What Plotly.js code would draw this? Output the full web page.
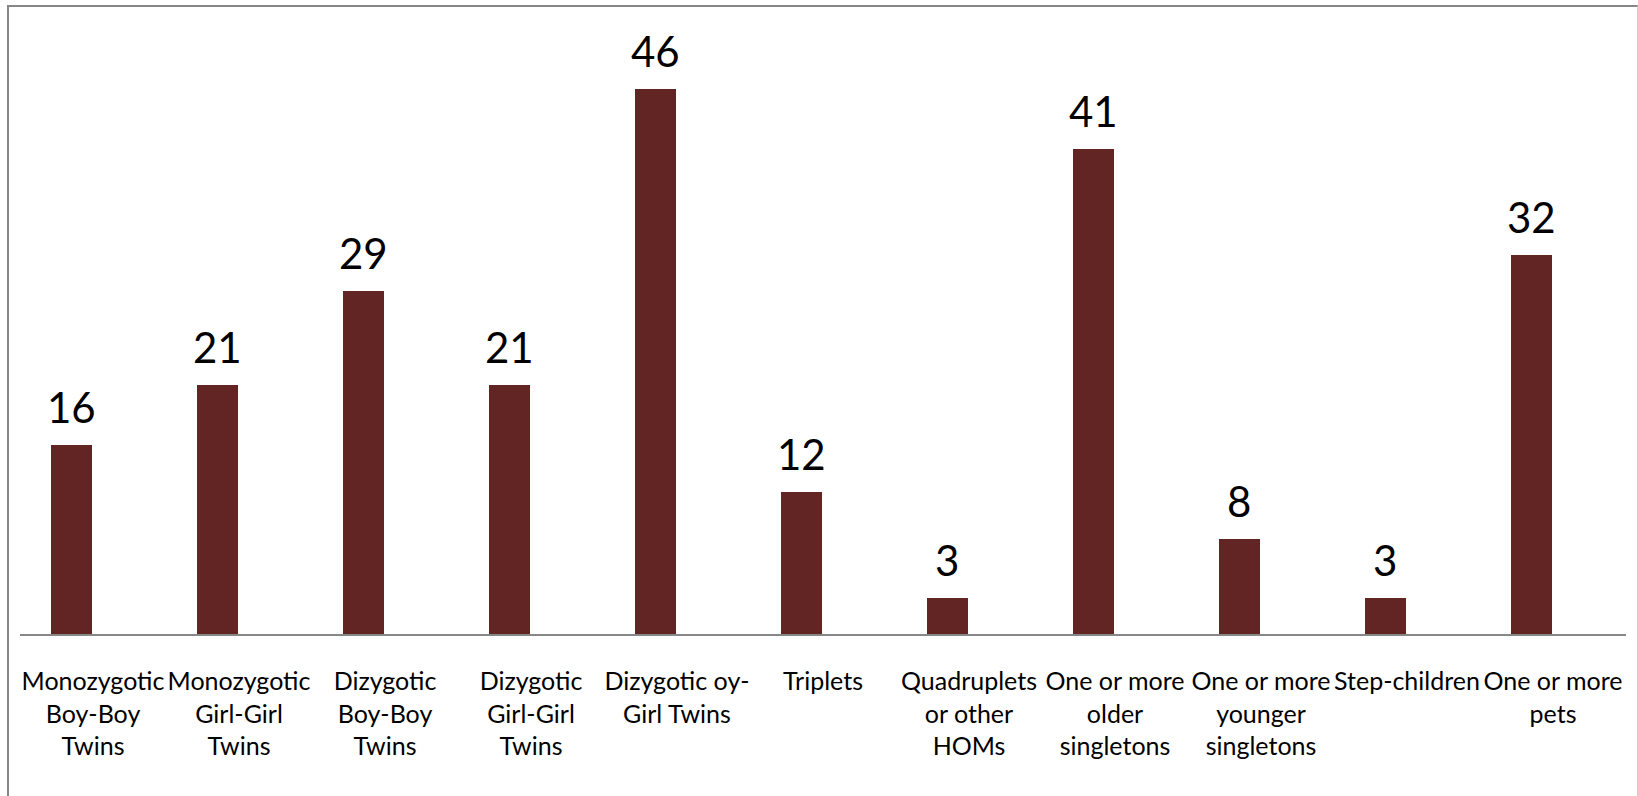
<!DOCTYPE html>
<html>
<head>
<meta charset="utf-8">
<script src="https://cdn.plot.ly/plotly-3.0.1.min.js"></script>
<style>
  html, body { margin: 0; padding: 0; background: #fff; }
  #wrap { position: relative; width: 1638px; height: 796px; overflow: hidden; }
  #chart { position: absolute; left: 0; top: 0; width: 1638px; height: 796px; }
  #frame { position: absolute; left: 7px; top: 5px; width: 1628px; height: 820px;
           border-left: 2px solid #878787; border-top: 2px solid #878787;
           border-right: 1px solid #cfcfcf; pointer-events: none; }
</style>
</head>
<body>
<div id="wrap">
  <div id="chart"></div>
  <div id="frame"></div>
</div>
<script>
const categories = [
  "Monozygotic Boy-Boy Twins",
  "Monozygotic Girl-Girl Twins",
  "Dizygotic Boy-Boy Twins",
  "Dizygotic Girl-Girl Twins",
  "Dizygotic oy-Girl Twins",
  "Triplets",
  "Quadruplets or other HOMs",
  "One or more older singletons",
  "One or more younger singletons",
  "Step-children",
  "One or more pets"
];
const tickLabels = [
  "Monozygotic<br>Boy-Boy<br>Twins",
  "Monozygotic<br>Girl-Girl<br>Twins",
  "Dizygotic<br>Boy-Boy<br>Twins",
  "Dizygotic<br>Girl-Girl<br>Twins",
  "Dizygotic oy-<br>Girl Twins",
  "Triplets",
  "Quadruplets<br>or other<br>HOMs",
  "One or more<br>older<br>singletons",
  "One or more<br>younger<br>singletons",
  "Step-children",
  "One or more<br>pets"
];
const values = [16, 21, 29, 21, 46, 12, 3, 41, 8, 3, 32];

const FONT = "Lato, 'Open Sans', sans-serif";
const barWidth = 0.281;
const barOffset = -0.288;
const labelShiftPx = (barOffset + barWidth / 2) * 146;

const trace = {
  type: "bar",
  x: categories,
  y: values,
  width: barWidth,
  offset: barOffset,
  marker: { color: "#632523", line: { width: 0 } },
  hoverinfo: "skip"
};

const annotations = categories.map((c, i) => ({
  x: c,
  y: values[i],
  xref: "x",
  yref: "y",
  text: String(values[i]),
  showarrow: false,
  yanchor: "bottom",
  xanchor: "center",
  xshift: labelShiftPx,
  yshift: 11,
  font: { family: FONT, size: 42, color: "#000" }
}));

const layout = {
  width: 1638,
  height: 796,
  margin: { l: 20, r: 12, t: 42, b: 162, pad: 0 },
  paper_bgcolor: "#fff",
  plot_bgcolor: "#fff",
  showlegend: false,
  bargap: 0,
  xaxis: {
    type: "category",
    range: [-0.5, 10.5],
    tickvals: categories,
    ticktext: tickLabels,
    tickangle: 0,
    ticks: "",
    ticklabelstandoff: 24,
    showline: true,
    linecolor: "#878787",
    linewidth: 2,
    showgrid: false,
    zeroline: false,
    fixedrange: true,
    tickfont: { family: FONT, size: 25, color: "#000" }
  },
  yaxis: {
    range: [0, 50],
    visible: false,
    showgrid: false,
    zeroline: false,
    fixedrange: true
  },
  annotations: annotations
};

Plotly.newPlot("chart", [trace], layout, { displayModeBar: false, staticPlot: true });
</script>
</body>
</html>
